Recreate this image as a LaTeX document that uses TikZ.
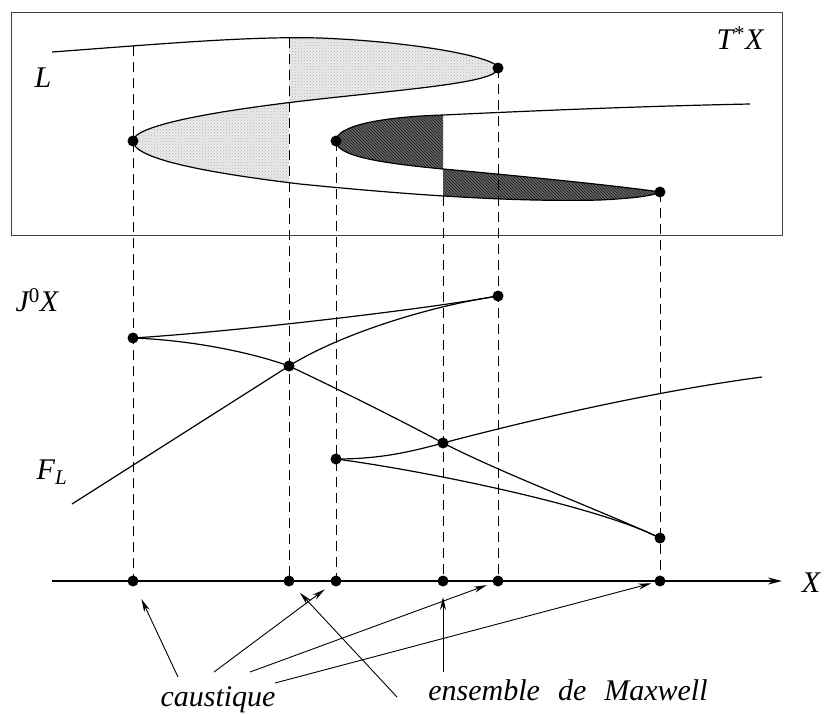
\documentclass[tikz,border=0pt]{standalone}
\usepackage{fontspec}
\setmainfont{Liberation Serif}
\usetikzlibrary{arrows.meta,patterns}
\begin{document}
\begin{tikzpicture}[x=1pt,y=-1pt,
  curve/.style={line width=1.2pt},
  guide/.style={line width=0.9pt, dash pattern=on 10pt off 6pt},
  dot/.style={circle, fill, inner sep=0pt, minimum size=11pt},
  lab/.style={font=\fontsize{30}{36}\selectfont\itshape, inner sep=0pt},
  ptr/.style={line width=0.9pt, -{Stealth[length=13pt,width=6pt]}},
  lightfill/.style={fill=black!8, postaction={pattern=crosshatch dots, pattern color=black!30}},
  darkfill/.style={fill=black!60, postaction={pattern=north west lines, pattern color=black!90}},
]
\useasboundingbox (0,0) rectangle (824,713);

% frame of T*X
\draw[line width=0.9pt, black!75] (11,12) rectangle (782,235);

% ---------- shaded regions ----------
\begin{scope}
  \clip (289,0) rectangle (520,240);
  \fill[lightfill] (52,52) .. controls (160,44) and (250,36) .. (320,38)
    .. controls (420,42) and (498,58) .. (498,68)
    .. controls (498,82) and (420,88) .. (320,99)
    .. controls (220,110) and (133,125) .. (133,141) -- cycle;
\end{scope}
\begin{scope}
  \clip (120,0) rectangle (289,240);
  \fill[lightfill] (320,99) .. controls (220,110) and (133,125) .. (133,141)
    .. controls (133,158) and (200,172) .. (300,184) -- cycle;
\end{scope}
\fill[darkfill] (443,169) .. controls (380,163) and (336,156) .. (336,141)
  .. controls (336,126) and (380,117) .. (443,115) -- cycle;
\begin{scope}
  \clip (443,0) rectangle (700,240);
  \fill[darkfill] (300,184) .. controls (420,196) and (520,202) .. (600,200)
    .. controls (640,198) and (655,195) .. (660,192)
    .. controls (620,186) and (520,176) .. (443,169) -- cycle;
\end{scope}

% ---------- Lagrangian curve L ----------
\draw[curve] (52,52) .. controls (160,44) and (250,36) .. (320,38)
  .. controls (420,42) and (498,58) .. (498,68)
  .. controls (498,82) and (420,88) .. (320,99)
  .. controls (220,110) and (133,125) .. (133,141)
  .. controls (133,158) and (200,172) .. (300,184)
  .. controls (420,196) and (520,202) .. (600,200)
  .. controls (640,198) and (655,195) .. (660,192)
  .. controls (620,186) and (520,176) .. (443,169)
  .. controls (380,163) and (336,156) .. (336,141)
  .. controls (336,126) and (380,117) .. (443,115)
  .. controls (550,110) and (650,106) .. (750,104);

% ---------- named points ----------
\coordinate (t1) at (133,46);
\coordinate (t2) at (289,38);
\coordinate (t4) at (443,196);
\coordinate (s0) at (72,504);
\coordinate (s1) at (762,377);

% ---------- front F_L in J^0X ----------
\draw[curve] (s0) -- (289,366) .. controls (340,334) and (430,306) .. (498,296);
\draw[curve] (133,338) .. controls (230,332) and (420,310) .. (498,296);
\draw[curve] (133,338) .. controls (190,340) and (250,352) .. (289,366)
  .. controls (340,390) and (400,420) .. (443,443)
  .. controls (510,477) and (600,510) .. (660,538);
\draw[curve] (336,459) .. controls (420,470) and (595,505) .. (660,538);
\draw[curve] (336,459) .. controls (380,459) and (410,452) .. (443,443)
  .. controls (530,420) and (650,392) .. (s1);

% ---------- axis ----------
\coordinate (ax0) at (52,581);
\coordinate (ax1) at (782,581);
\draw[curve, -{Stealth[length=14pt,width=7pt]}] (ax0) -- (ax1);

% ---------- dots ----------
\node[dot] (l1) at (133,141) {};
\node[dot] (l3) at (336,141) {};
\node[dot] (l5) at (498,68) {};
\node[dot] (l6) at (660,192) {};
\node[dot] (f1) at (133,338) {};
\node[dot] (f2) at (289,366) {};
\node[dot] (f3) at (336,459) {};
\node[dot] (f4) at (443,443) {};
\node[dot] (f5) at (498,296) {};
\node[dot] (f6) at (660,538) {};
\node[dot] (x1) at (133,581) {};
\node[dot] (x2) at (289,581) {};
\node[dot] (x3) at (336,581) {};
\node[dot] (x4) at (443,581) {};
\node[dot] (x5) at (498,581) {};
\node[dot] (x6) at (660,581) {};

% ---------- dashed projections ----------
\draw[guide] (t1) -- (x1.center);
\draw[guide] (t2) -- (x2.center);
\draw[guide] (l3.center) -- (x3.center);
\draw[guide] (t4) -- (x4.center);
\draw[guide] (l5.center) -- (x5.center);
\draw[guide] (l6.center) -- (x6.center);

% ---------- labels ----------
\node[lab] (lL) at (43,78) {L};
\node[lab] (lT) at (740,38) {T\kern1pt\textsuperscript{\upshape *}X};
\node[lab] (lJ) at (37,300) {J\textsuperscript{\upshape 0}X};
\node[lab] (lF) at (52,472) {F\textsubscript{L}};
\node[lab] (lX) at (811,583) {X};
\node[lab, anchor=base] (cau) at (218,706) {caustique};
\node[lab, anchor=base] (max) at (568,700) {ensemble\hspace{18pt}de\hspace{18pt}Maxwell};

% ---------- pointers ----------
\coordinate (c1) at (178,677);
\coordinate (c2) at (214,672);
\coordinate (c3) at (250,672);
\coordinate (c4) at (275,683);
\coordinate (m1) at (397,697);
\coordinate (m2) at (443,672);
\draw[ptr, shorten >=20pt] (c1) -- (x1.center);
\draw[ptr, shorten >=14pt] (c2) -- (x3.center);
\draw[ptr, shorten >=12pt] (c3) -- (x5.center);
\draw[ptr, shorten >=9pt] (c4) -- (x6.center);
\draw[ptr, shorten >=16pt] (m1) -- (x2.center);
\draw[ptr, shorten >=16pt] (m2) -- (x4.center);
\end{tikzpicture}
\end{document}
